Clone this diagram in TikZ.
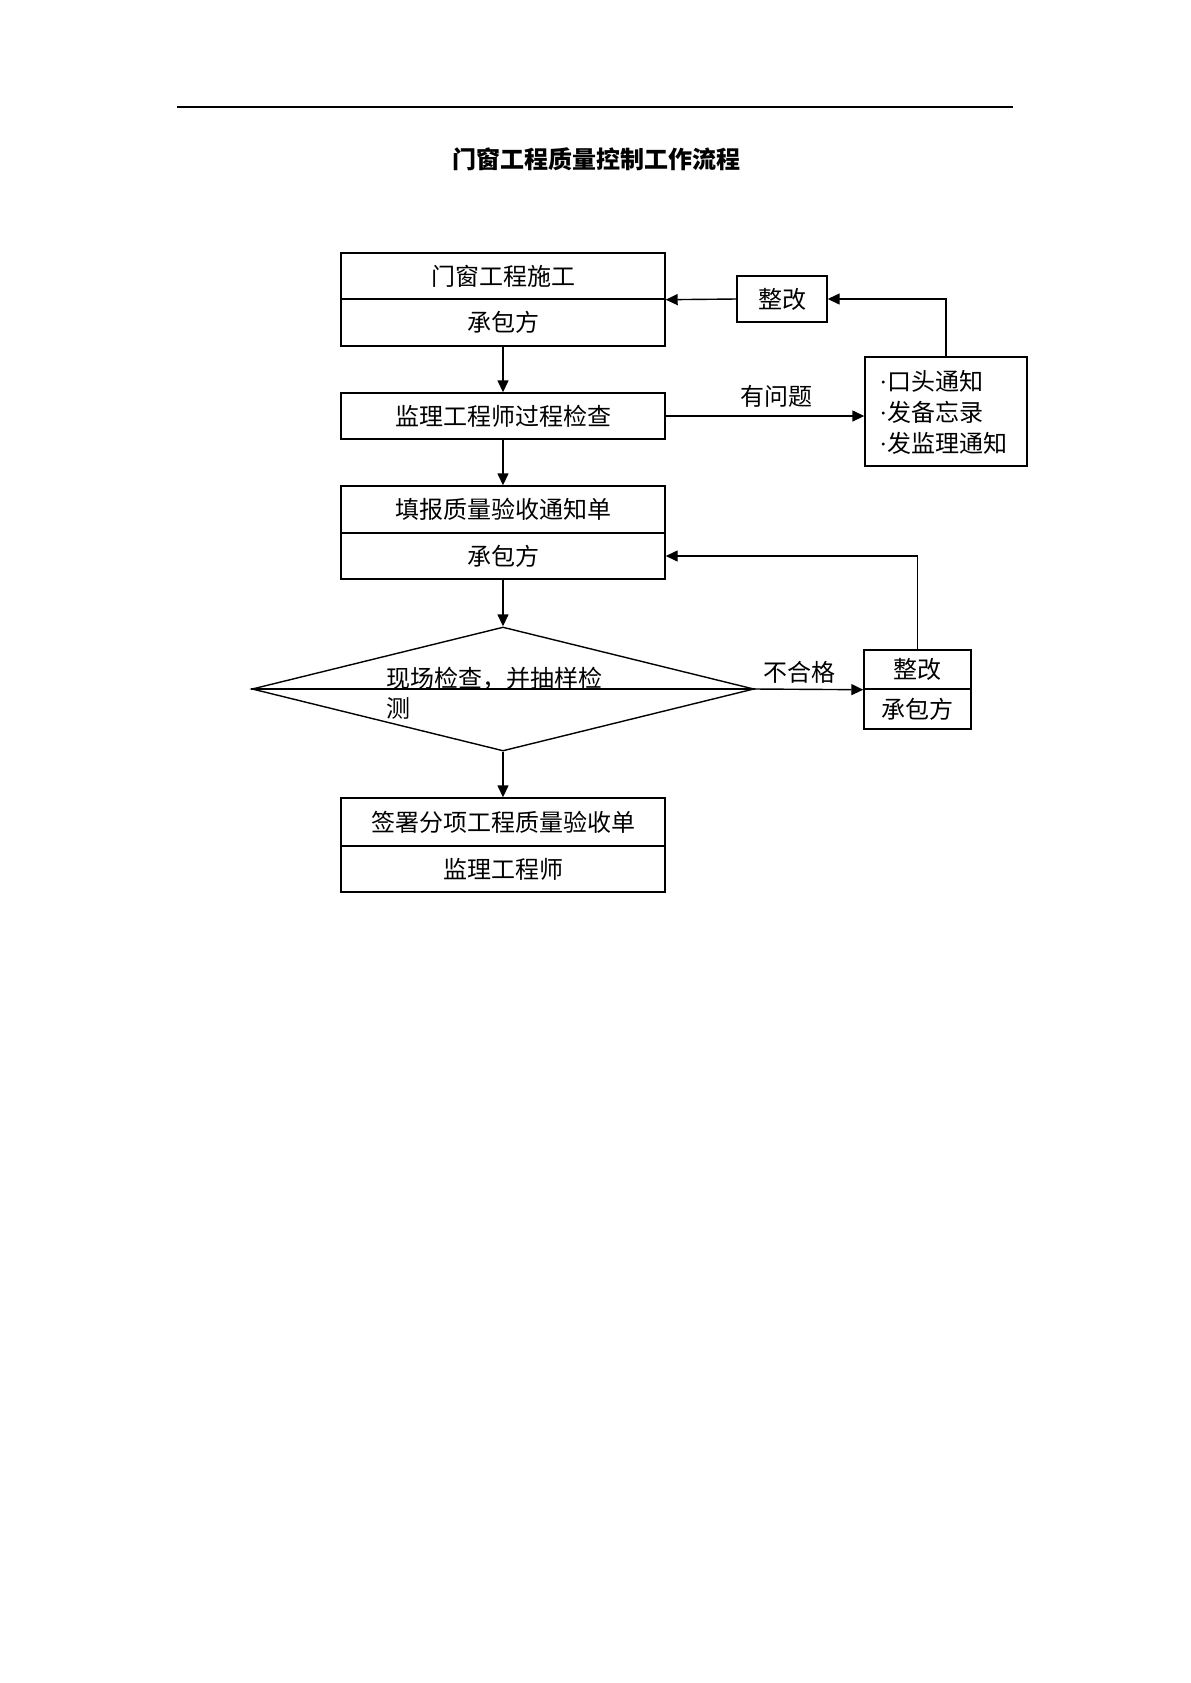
\documentclass[tikz,border=0pt]{standalone}
\usepackage{fontspec}
\setmainfont{Noto Sans CJK SC}
\newfontfamily\latinfont{Liberation Serif}
\newcommand{\mydot}{{\latinfont ·}}
\usetikzlibrary{arrows.meta,shapes.geometric}
\tikzset{
  cell/.style={draw, line width=0.7pt, minimum width=162pt, inner sep=0pt, font=\fontsize{12pt}{15pt}\selectfont},
  lbl/.style={font=\fontsize{12pt}{15pt}\selectfont, inner sep=0pt},
  arr/.style={line width=0.7pt, -{Triangle[length=6pt,width=5.5pt]}},
  ln/.style={line width=0.7pt}
}
\begin{document}
\begin{tikzpicture}[x=0.5pt,y=-0.5pt]
\useasboundingbox (0,0) rectangle (1190,1683);
% top rule
\coordinate (rl) at (177,107);
\coordinate (rr) at (1013,107);
\draw[line width=0.8pt] (rl) -- (rr);
% title
\node[lbl, font=\fontsize{12pt}{15pt}\selectfont\bfseries] (title) at (596,159) {门窗工程质量控制工作流程};
% box 1
\node[cell, minimum height=23pt] (b1a) at (503,276) {门窗工程施工};
\node[cell, minimum height=23.5pt] (b1b) at (503,322.5) {承包方};
% box 2
\node[cell, minimum height=23pt] (b2) at (503,416) {监理工程师过程检查};
% box 3
\node[cell, minimum height=23.5pt] (b3a) at (503,509.5) {填报质量验收通知单};
\node[cell, minimum height=23pt] (b3b) at (503,556) {承包方};
% diamond
\node[diamond, draw, line width=0.7pt, minimum width=251pt, minimum height=62pt, inner sep=0pt] (d) at (503,689) {};
\node[lbl, anchor=west, align=left] (dt) at (386,693) {现场检查，并抽样检\\测};
% box 4
\node[cell, minimum height=24pt] (b4a) at (503,822) {签署分项工程质量验收单};
\node[cell, minimum height=23pt] (b4b) at (503,869) {监理工程师};
% rectify box top
\node[cell, minimum width=45pt, minimum height=23pt] (zg) at (782,299) {整改};
% notification box
\node[cell, minimum width=81pt, minimum height=54.5pt] (nt) at (946,411.5) {};
\node[lbl, anchor=west, align=left, font=\fontsize{12pt}{15.5pt}\selectfont] (ntx) at (879,412) {\mydot 口头通知\\\mydot 发备忘录\\\mydot 发监理通知};
% right box
\node[cell, minimum width=53.5pt, minimum height=19.5pt] (rba) at (917.5,669.5) {整改};
\node[cell, minimum width=53.5pt, minimum height=20pt] (rbb) at (917.5,709) {承包方};
% connectors
\draw[arr] (b1b.south) -- (b2.north);
\draw[arr] (b2.south) -- (b3a.north);
\draw[arr] (b3b.south) -- (d.north);
\draw[arr] (d.south) -- (b4a.north);
\draw[arr] (b2.east) -- (b2.east -| nt.west);
\node[lbl] (l1) at (776,396) {有问题};
\draw[arr] (nt.north) |- (zg.east);
\draw[arr] (zg.west) -- (b1a.south east);
\draw[ln] (d.west) -- (d.east);
\draw[arr] (d.east) -- (rba.south west);
\node[lbl] (l2) at (799,672) {不合格};
\draw[arr] (rba.north) |- (b3b.east);
\end{tikzpicture}
\end{document}
